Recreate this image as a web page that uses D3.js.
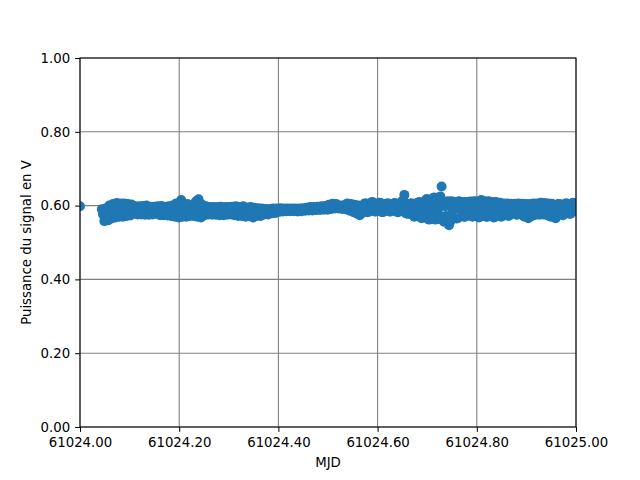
<!DOCTYPE html>
<html>
<head>
<meta charset="utf-8">
<script src="https://cdn.jsdelivr.net/npm/d3@7"></script>
<style>
  html, body { margin: 0; padding: 0; background: #ffffff; }
  svg { display: block; }
  text { font-family: "DejaVu Sans", sans-serif; }
</style>
</head>
<body>
<svg id="chart" width="640" height="480"></svg>
<script>
// ---- Data (MJD offset from 61024, signal power in V) ----
const mjdBase = 61024;
const xTickValues = [61024.0, 61024.2, 61024.4, 61024.6, 61024.8, 61025.0];
const yTickValues = [0.0, 0.2, 0.4, 0.6, 0.8, 1.0];
const xLabel = "MJD";
const yLabel = "Puissance du signal en V";

// first set of samples
const mjdOffset = [
  0.000,
  0.044,0.049,0.054,0.059,0.064,0.069,0.074,0.079,0.084,0.089,
  0.094,0.099,0.104,0.109,0.114,0.119,0.124,0.129,0.134,0.139,
  0.144,0.149,0.154,0.159,0.164,0.169,0.174,0.179,0.184,0.189,
  0.194,0.199,0.204,0.209,0.214,0.219,0.224,0.229,0.234,0.239,
  0.244,0.249,0.254,0.259,0.264,0.269,0.274,0.279,0.284,0.289,
  0.294,0.299,0.304,0.309,0.314,0.319,0.324,0.329,0.334,0.339,
  0.344,0.349,0.354,0.359,0.364,0.369,0.374,0.379,0.384,0.389,
  0.394,0.399,0.404,0.409,0.414,0.419,0.424,0.429,0.434,0.439,
  0.444,0.449,0.454,0.459,0.464,0.469,0.474,0.479,0.484,0.489,
  0.494,0.499,0.504,0.509,0.514,0.519,0.524,0.529,0.534,0.539,
  0.544,0.549,0.554,0.559,0.564,0.569,0.574,0.579,0.584,0.589,
  0.594,0.599,0.604,0.609,0.614,0.619,0.624,0.629,0.634,0.639,
  0.644,0.649,0.654,0.659,0.664,0.669,0.674,0.679,0.684,0.689,
  0.694,0.699,0.704,0.709,0.714,0.719,0.724,0.729,0.734,0.739,
  0.744,0.749,0.754,0.759,0.764,0.769,0.774,0.779,0.784,0.789,
  0.794,0.799,0.804,0.809,0.814,0.819,0.824,0.829,0.834,0.839,
  0.844,0.849,0.854,0.859,0.864,0.869,0.874,0.879,0.884,0.889,
  0.894,0.899,0.904,0.909,0.914,0.919,0.924,0.929,0.934,0.939,
  0.944,0.949,0.954,0.959,0.964,0.969,0.974,0.979,0.984,0.989,
  0.994,0.999,1.004
];
const signalV = [
  0.598,
  0.590,0.558,0.575,0.600,0.565,0.585,0.607,0.570,0.590,0.606,
  0.572,0.592,0.603,0.578,0.590,0.598,0.576,0.588,0.600,0.575,
  0.590,0.597,0.578,0.588,0.599,0.574,0.588,0.598,0.572,0.590,
  0.606,0.568,0.615,0.590,0.570,0.600,0.588,0.572,0.612,0.617,
  0.568,0.590,0.598,0.576,0.588,0.596,0.575,0.586,0.597,0.574,
  0.587,0.596,0.576,0.588,0.598,0.572,0.586,0.598,0.570,0.585,
  0.596,0.568,0.584,0.593,0.572,0.584,0.591,0.576,0.585,0.592,
  0.580,0.588,0.593,0.584,0.589,0.592,0.585,0.589,0.592,0.584,
  0.588,0.593,0.586,0.590,0.596,0.587,0.591,0.597,0.588,0.592,
  0.599,0.589,0.595,0.605,0.592,0.598,0.600,0.591,0.596,0.606,
  0.586,0.596,0.602,0.578,0.574,0.590,0.606,0.582,0.595,0.610,
  0.584,0.598,0.608,0.582,0.596,0.606,0.584,0.595,0.607,0.583,
  0.596,0.612,0.629,0.578,0.594,0.606,0.570,0.590,0.610,0.566,
  0.590,0.618,0.562,0.592,0.622,0.564,0.595,0.652,0.556,0.600,
  0.547,0.612,0.590,0.565,0.612,0.590,0.570,0.610,0.592,0.572,
  0.612,0.592,0.568,0.615,0.592,0.570,0.612,0.590,0.568,0.610,
  0.590,0.570,0.606,0.588,0.572,0.605,0.590,0.576,0.606,0.590,
  0.572,0.604,0.566,0.588,0.606,0.575,0.590,0.608,0.576,0.592,
  0.606,0.570,0.588,0.566,0.604,0.588,0.574,0.606,0.590,0.578,
  0.608,0.592,0.585
];

// second (interleaved) set of samples
const mjdOffsetB = [
  0.0465,0.0515,0.0565,0.0615,0.0665,0.0715,0.0765,0.0815,0.0865,0.0915,
  0.0965,0.1015,0.1065,0.1115,0.1165,0.1215,0.1265,0.1315,0.1365,0.1415,
  0.1465,0.1515,0.1565,0.1615,0.1665,0.1715,0.1765,0.1815,0.1865,0.1915,
  0.1965,0.2015,0.2065,0.2115,0.2165,0.2215,0.2265,0.2315,0.2365,0.2415,
  0.2465,0.2515,0.2565,0.2615,0.2665,0.2715,0.2765,0.2815,0.2865,0.2915,
  0.2965,0.3015,0.3065,0.3115,0.3165,0.3215,0.3265,0.3315,0.3365,0.3415,
  0.3465,0.3515,0.3565,0.3615,0.3665,0.3715,0.3765,0.3815,0.3865,0.3915,
  0.3965,0.4015,0.4065,0.4115,0.4165,0.4215,0.4265,0.4315,0.4365,0.4415,
  0.4465,0.4515,0.4565,0.4615,0.4665,0.4715,0.4765,0.4815,0.4865,0.4915,
  0.4965,0.5015,0.5065,0.5115,0.5165,0.5215,0.5265,0.5315,0.5365,0.5415,
  0.5465,0.5515,0.5565,0.5615,0.5665,0.5715,0.5765,0.5815,0.5865,0.5915,
  0.5965,0.6015,0.6065,0.6115,0.6165,0.6215,0.6265,0.6315,0.6365,0.6415,
  0.6465,0.6515,0.6565,0.6615,0.6665,0.6715,0.6765,0.6815,0.6865,0.6915,
  0.6965,0.7015,0.7065,0.7115,0.7165,0.7215,0.7265,0.7315,0.7365,0.7415,
  0.7465,0.7515,0.7565,0.7615,0.7665,0.7715,0.7765,0.7815,0.7865,0.7915,
  0.7965,0.8015,0.8065,0.8115,0.8165,0.8215,0.8265,0.8315,0.8365,0.8415,
  0.8465,0.8515,0.8565,0.8615,0.8665,0.8715,0.8765,0.8815,0.8865,0.8915,
  0.8965,0.9015,0.9065,0.9115,0.9165,0.9215,0.9265,0.9315,0.9365,0.9415,
  0.9465,0.9515,0.9565,0.9615,0.9665,0.9715,0.9765,0.9815,0.9865,0.9915,
  0.9965,1.0015
];
const signalVB = [
  0.576,0.592,0.560,0.588,0.604,0.568,0.588,0.606,0.570,0.589,
  0.604,0.573,0.587,0.598,0.576,0.588,0.599,0.575,0.587,0.597,
  0.576,0.587,0.598,0.574,0.586,0.597,0.573,0.588,0.600,0.570,
  0.588,0.608,0.570,0.588,0.604,0.572,0.588,0.606,0.570,0.590,
  0.602,0.574,0.586,0.596,0.575,0.586,0.596,0.574,0.585,0.596,
  0.575,0.586,0.597,0.574,0.585,0.596,0.572,0.584,0.595,0.571,
  0.584,0.594,0.572,0.583,0.592,0.576,0.584,0.591,0.579,0.586,
  0.592,0.583,0.588,0.592,0.585,0.589,0.592,0.585,0.588,0.592,
  0.585,0.589,0.594,0.587,0.591,0.596,0.588,0.592,0.598,0.589,
  0.594,0.602,0.591,0.597,0.604,0.592,0.596,0.601,0.590,0.596,
  0.604,0.582,0.592,0.600,0.578,0.594,0.606,0.583,0.596,0.608,
  0.584,0.596,0.607,0.583,0.595,0.606,0.584,0.595,0.606,0.582,
  0.596,0.614,0.580,0.594,0.606,0.574,0.590,0.608,0.568,0.588,
  0.614,0.564,0.590,0.620,0.562,0.592,0.625,0.560,0.598,0.612,
  0.556,0.590,0.610,0.566,0.590,0.610,0.570,0.590,0.611,0.570,
  0.591,0.612,0.569,0.591,0.612,0.570,0.590,0.610,0.569,0.590,
  0.608,0.571,0.589,0.606,0.574,0.590,0.605,0.575,0.590,0.605,
  0.570,0.588,0.604,0.572,0.589,0.606,0.575,0.590,0.607,0.574,
  0.590,0.605,0.568,0.588,0.604,0.575,0.590,0.606,0.578,0.590,
  0.607,0.584
];

// third set: extra samples in the noisier stretch
const mjdOffsetC = [
  0.6603,0.6628,0.6653,0.6678,0.6703,0.6728,0.6753,0.6778,0.6803,0.6828,
  0.6853,0.6878,0.6903,0.6928,0.6953,0.6978,0.7003,0.7028,0.7053,0.7078,
  0.7103,0.7128,0.7153,0.7178,0.7203,0.7228,0.7253,0.7278,0.7303,0.7328,
  0.7353,0.7378,0.7403,0.7428,0.7453,0.7478,0.7503
];
const signalVC = [
  0.602,0.578,0.604,0.577,0.603,0.576,0.605,0.578,0.604,0.576,
  0.606,0.575,0.604,0.574,0.607,0.575,0.606,0.573,0.608,0.574,
  0.607,0.572,0.609,0.573,0.610,0.572,0.612,0.571,0.611,0.570,
  0.610,0.572,0.608,0.570,0.606,0.574,0.604
];

// ---- Layout ----
const margin = { left: 80, right: 64, top: 58, bottom: 53 };
const width = 640, height = 480;
const innerW = width - margin.left - margin.right;   // 496
const innerH = height - margin.top - margin.bottom;  // 369

const svg = d3.select("#chart");
const g = svg.append("g").attr("transform", `translate(${margin.left},${margin.top})`);

const x = d3.scaleLinear().domain([61024.0, 61025.0]).range([0, innerW]);
const y = d3.scaleLinear().domain([0, 1]).range([innerH, 0]);

svg.append("defs").append("clipPath").attr("id", "plotclip")
  .append("rect").attr("x", 0).attr("y", 0).attr("width", innerW).attr("height", innerH);

// grid
const grid = g.append("g").attr("class", "grid");
grid.selectAll("line.vx").data(xTickValues).enter().append("line")
  .attr("x1", d => x(d)).attr("x2", d => x(d))
  .attr("y1", 0).attr("y2", innerH)
  .attr("stroke", "#808080").attr("stroke-width", 1.1);
grid.selectAll("line.hy").data(yTickValues).enter().append("line")
  .attr("y1", d => y(d)).attr("y2", d => y(d))
  .attr("x1", 0).attr("x2", innerW)
  .attr("stroke", "#808080").attr("stroke-width", 1.1);

// points
const toPts = (ts, vs) => ts.map((t, i) => ({ t: mjdBase + t, v: vs[i] }));
const pts = toPts(mjdOffset, signalV)
  .concat(toPts(mjdOffsetB, signalVB))
  .concat(toPts(mjdOffsetC, signalVC));
g.append("g").attr("clip-path", "url(#plotclip)")
  .selectAll("circle").data(pts).enter().append("circle")
  .attr("cx", d => x(d.t)).attr("cy", d => y(d.v))
  .attr("r", 5).attr("fill", "#1f77b4");

// axes
const fmt = d3.format(".2f");
const xAxis = g.append("g").attr("transform", `translate(0,${innerH})`)
  .call(d3.axisBottom(x).tickValues(xTickValues).tickFormat(fmt).tickSize(4.9).tickPadding(5.5));
const yAxis = g.append("g")
  .call(d3.axisLeft(y).tickValues(yTickValues).tickFormat(fmt).tickSize(4.9).tickPadding(4.9));
[xAxis, yAxis].forEach(a => {
  a.select(".domain").remove();
  a.selectAll(".tick line").attr("stroke", "#000").attr("stroke-width", 1);
  a.selectAll(".tick text").attr("fill", "#000").style("font-size", "13.3px")
    .style("font-family", "'DejaVu Sans', sans-serif");
});

// spines
g.append("rect").attr("x", 0).attr("y", 0).attr("width", innerW).attr("height", innerH)
  .attr("fill", "none").attr("stroke", "#000").attr("stroke-width", 1);

// labels
svg.append("text").attr("x", margin.left + innerW / 2).attr("y", 467)
  .attr("text-anchor", "middle").style("font-size", "13.3px").text(xLabel);
svg.append("text")
  .attr("transform", `translate(31,${margin.top + innerH / 2}) rotate(-90)`)
  .attr("text-anchor", "middle").style("font-size", "13.3px").text(yLabel);
</script>
</body>
</html>
